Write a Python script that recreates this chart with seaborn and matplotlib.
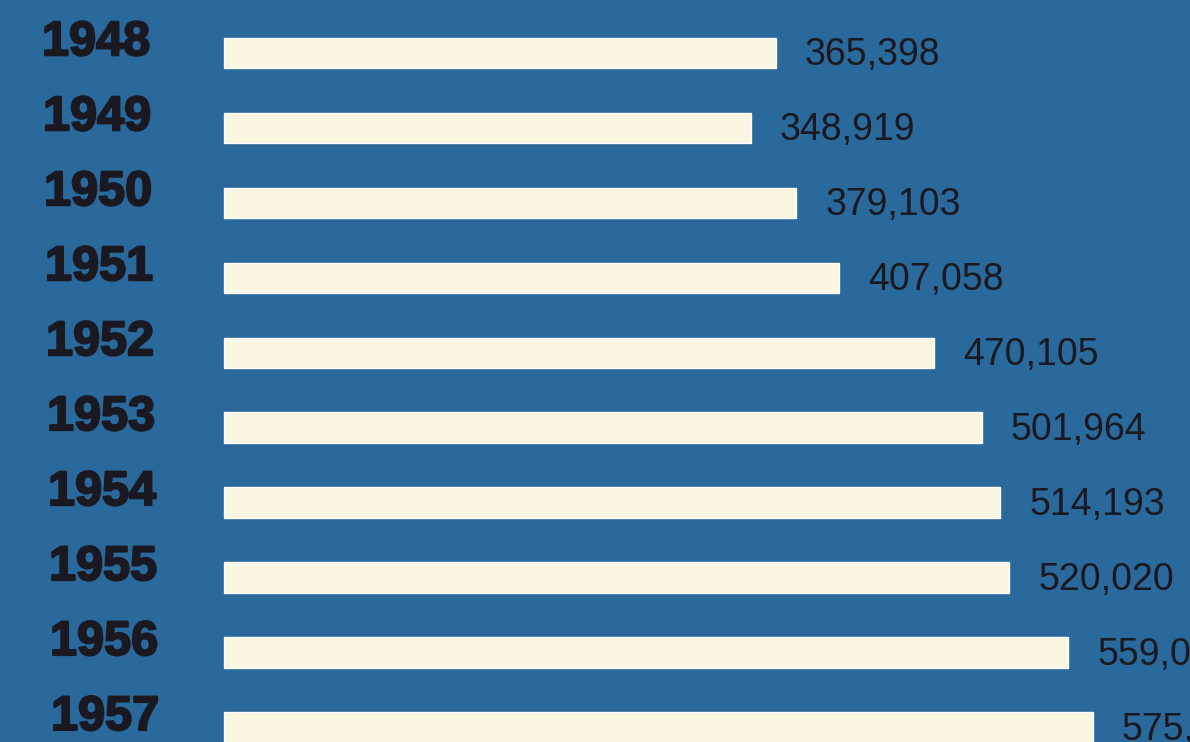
import seaborn as sns
import matplotlib.pyplot as plt
import matplotlib.patheffects as pe
import pandas as pd

years = ["1948", "1949", "1950", "1951", "1952", "1953", "1954", "1955", "1956", "1957"]
values = [365398, 348919, 379103, 407058, 470105, 501964, 514193, 520020, 559014, 575472]
labels = ["365,398", "348,919", "379,103", "407,058", "470,105", "501,964",
          "514,193", "520,020", "559,014", "575,472"]

df = pd.DataFrame({"year": years, "value": values})

blue = "#2a699b"
cream = "#fbf6e2"
ink = "#1a1820"

sns.set_theme(style="white")
plt.rcParams["font.family"] = ["Liberation Sans", "DejaVu Sans"]

fig = plt.figure(figsize=(11.9, 7.42), dpi=100, facecolor=blue)
ax = fig.add_axes([0, 0, 1, 1])
ax.set_facecolor(blue)

sns.barplot(data=df, x="value", y="year", orient="h", color=cream,
            width=0.41, saturation=1, ax=ax)

# one pixel in data units along x
upp = 662.25
ax.set_xlim(-224 * upp, (1190 - 224) * upp)
ax.set_ylim(9.19, -0.707)

for i, (v, lab) in enumerate(zip(values, labels)):
    ax.text(v + 29 * upp, i + 0.16, lab, ha="left", va="baseline",
            fontsize=27, color=ink)
    # bold years, drifting a little right down the page like the scan
    ax.text(-224 * upp + (42 + i) * upp, i + 0.03, years[i], ha="left", va="baseline",
            fontsize=35, fontweight="bold", color=ink,
            path_effects=[pe.withStroke(linewidth=1.5, foreground=ink)])

ax.set_axis_off()
fig.savefig("out.png", dpi=100, facecolor=blue)
